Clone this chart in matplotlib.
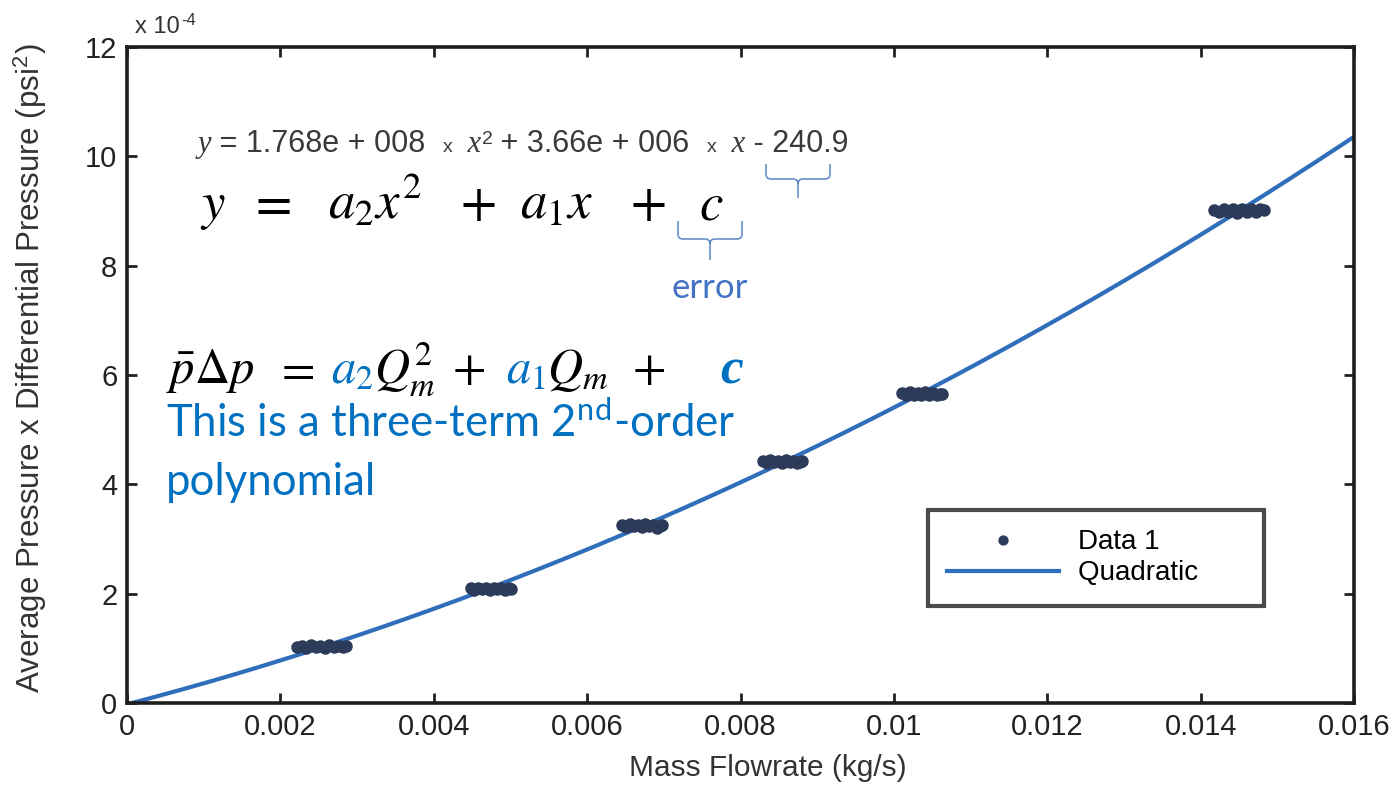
import matplotlib
matplotlib.use("Agg")
import matplotlib.pyplot as plt
import numpy as np
from matplotlib.path import Path
from matplotlib.patches import PathPatch

plt.rcParams['font.family'] = ['Liberation Sans', 'DejaVu Sans']
plt.rcParams['mathtext.fontset'] = 'stix'

# coeficientes del ajuste cuadratico (escala x 10^4 en el eje)
a2 = 1.768e8
a1 = 3.66e6
c0 = -240.9
y_scale = 1e4

# grupos de datos medidos (kg/s, valor en unidades del eje)
data_x = [
    [0.00222, 0.00228, 0.00234, 0.00240, 0.00246, 0.00252, 0.00258, 0.00264, 0.00270, 0.00276, 0.00282, 0.00286],
    [0.00448, 0.00453, 0.00458, 0.00463, 0.00468, 0.00473, 0.00478, 0.00483, 0.00488, 0.00493, 0.00498, 0.00501],
    [0.00646, 0.00651, 0.00656, 0.00661, 0.00666, 0.00671, 0.00676, 0.00681, 0.00686, 0.00691, 0.00695, 0.00698],
    [0.00829, 0.00834, 0.00839, 0.00844, 0.00849, 0.00854, 0.00859, 0.00864, 0.00869, 0.00874, 0.00877, 0.00880],
    [0.01011, 0.01016, 0.01021, 0.01026, 0.01031, 0.01036, 0.01041, 0.01046, 0.01051, 0.01056, 0.01060, 0.01063],
    [0.01418, 0.01424, 0.01430, 0.01436, 0.01442, 0.01448, 0.01454, 0.01460, 0.01466, 0.01472, 0.01478, 0.01482],
]
data_y = [
    [1.03, 1.05, 1.01, 1.06, 1.03, 1.05, 1.01, 1.06, 1.03, 1.05, 1.02, 1.04],
    [2.10, 2.06, 2.11, 2.08, 2.10, 2.06, 2.11, 2.08, 2.10, 2.06, 2.11, 2.09],
    [3.26, 3.22, 3.27, 3.23, 3.26, 3.22, 3.27, 3.24, 3.26, 3.21, 3.24, 3.25],
    [4.43, 4.39, 4.44, 4.40, 4.43, 4.39, 4.44, 4.40, 4.43, 4.39, 4.41, 4.42],
    [5.67, 5.63, 5.68, 5.64, 5.67, 5.63, 5.68, 5.64, 5.67, 5.63, 5.65, 5.66],
    [9.02, 8.98, 9.04, 8.99, 9.03, 8.97, 9.04, 8.99, 9.03, 8.98, 9.04, 9.01],
]

x_ticks = [0, 0.002, 0.004, 0.006, 0.008, 0.01, 0.012, 0.014, 0.016]
x_labels = ['0', '0.002', '0.004', '0.006', '0.008', '0.01', '0.012', '0.014', '0.016']
y_ticks = [0, 2, 4, 6, 8, 10, 12]

W, H = 1390, 785
line_blue = '#2F6EBA'
dot_col = '#2D3B5A'
txt_blue = '#0070C0'
brace_blue = '#5B87C8'


def px(x, y):
    # pixeles de la imagen -> fraccion de figura
    return (x / W, 1 - y / H)


fig = plt.figure(figsize=(13.9, 7.85), dpi=100)
ax = fig.add_axes([127 / W, 1 - 703 / H, 1227 / W, 656 / H])

# curva ajustada
xf = np.linspace(0, 0.016, 400)
yf = (a2 * xf ** 2 + a1 * xf + c0) / y_scale
ax.plot(xf, yf, color=line_blue, lw=3, label='Quadratic      ', zorder=2)

# puntos
allx = [v for g in data_x for v in g]
ally = [v for g in data_y for v in g]
ax.plot(allx, ally, 'o', color=dot_col, ms=8, label='Data 1', zorder=3)

ax.set_xlim(0, 0.016)
ax.set_ylim(0, 12)
ax.set_xticks(x_ticks)
ax.set_xticklabels(x_labels)
ax.set_yticks(y_ticks)
ax.tick_params(direction='in', length=7, width=2, top=True, right=True,
               labelsize=21, pad=7, colors='#222222')
for s in ax.spines.values():
    s.set_linewidth(2.6)
    s.set_color('#1E1E1E')

fig.text(*px(768, 768), 'Mass Flowrate (kg/s)', fontsize=21.5, color='#333333',
         ha='center', va='center')
fig.text(30 / W, 1 - 368 / H,
         'Average Pressure $\\mathregular{x}$ Differential Pressure (psi$^{\\mathregular{2}}$)',
         rotation=90, ha='center', va='center', fontsize=22.5, color='#333333')

fig.canvas.draw()
renderer = fig.canvas.get_renderer()


def chain(x0, ybase, pieces):
    # coloca trozos de texto uno tras otro sobre la misma linea base
    xc = x0
    for s, kw, dy, gap in pieces:
        t = fig.text(*px(xc, ybase - dy), s, va='baseline', **kw)
        xc += t.get_window_extent(renderer).width + gap


g = dict(color='#333333')
chain(135, 33, [('x 10', dict(fontsize=17, **g), 0, 1),
                ('-4', dict(fontsize=12, **g), 8, 0)])

# leyenda (orden Data 1, Quadratic)
h, l = ax.get_legend_handles_labels()
leg = ax.legend(h[::-1], l[::-1], loc='upper left', bbox_to_anchor=px(928, 510),
                bbox_transform=fig.transFigure, borderaxespad=0, fontsize=20,
                handlelength=4.0, handletextpad=0.7, borderpad=0.7,
                labelspacing=0.18, fancybox=False, edgecolor='#1E1E1E',
                markerscale=0.8)
leg.get_frame().set_linewidth(3)

# ecuacion del ajuste
e = dict(color='#3A3A3A')
fs = 22
it = dict(fontsize=fs, family='Liberation Serif', fontstyle='italic', **e)
chain(198, 152, [('y', it, 0, 0),
                 (' = 1.768e + 008  ', dict(fontsize=fs, **e), 0, 0),
                 ('x', dict(fontsize=14, **e), 0, 7),
                 (' x', it, 0, 1),
                 ('2', dict(fontsize=14, **e), 8, 0),
                 (' + 3.66e + 006  ', dict(fontsize=fs, **e), 0, 0),
                 ('x', dict(fontsize=14, **e), 0, 7),
                 (' x', it, 0, 0),
                 (' - 240.9', dict(fontsize=fs, **e), 0, 0)])

# ecuacion general
big = [(r'$y$', 200), (r'$=$', 248), (r'$a_2x^2$', 328), (r'$+$', 460),
       (r'$a_1x$', 520), (r'$+$', 630), (r'$c$', 699)]
for s, x in big:
    fig.text(*px(x, 219), s, fontsize=38, color='black', va='baseline')


def brace(x0, x1, ytop, ymid, ytip, r=5):
    xc = (x0 + x1) / 2
    pts = [(x0, ytop), (x0, ymid - r), (x0, ymid), (x0 + r, ymid), (xc - r, ymid),
           (xc, ymid), (xc, ymid + r), (xc, ytip),
           (xc, ymid + r), (xc, ymid), (xc + r, ymid), (x1 - r, ymid),
           (x1, ymid), (x1, ymid - r), (x1, ytop)]
    codes = [Path.MOVETO, Path.LINETO, Path.CURVE3, Path.CURVE3, Path.LINETO,
             Path.CURVE3, Path.CURVE3, Path.LINETO,
             Path.MOVETO, Path.CURVE3, Path.CURVE3, Path.LINETO,
             Path.CURVE3, Path.CURVE3, Path.LINETO]
    verts = [px(a, b) for a, b in pts]
    fig.add_artist(PathPatch(Path(verts, codes), fill=False, edgecolor=brace_blue,
                             lw=1.1, transform=fig.transFigure))


brace(766, 830, 164, 179, 198)
brace(678, 742, 221, 239, 260)

fig.text(*px(710, 298), 'error', fontsize=25, color='#4472C4', ha='center',
         va='baseline', family='Lato')

# segunda ecuacion con colores
m = dict(fontsize=35)
fig.text(*px(166, 383), r'$\bar{p}\Delta p$', color='black', va='baseline', **m)
fig.text(*px(274, 383), r'$=$', color='black', va='baseline', **m)
chain(331, 383, [(r'$a_2$', dict(color=txt_blue, **m), 0, 1),
                 (r'$Q_m^2$', dict(color='black', **m), 0, 0)])
fig.text(*px(452, 383), r'$+$', color='black', va='baseline', **m)
chain(506, 383, [(r'$a_1$', dict(color=txt_blue, **m), 0, 1),
                 (r'$Q_m$', dict(color='black', **m), 0, 0)])
fig.text(*px(632, 383), r'$+$', color='black', va='baseline', **m)
fig.text(*px(720, 383), 'c', fontsize=37, color=txt_blue, va='baseline',
         family='Liberation Serif', fontweight='bold', fontstyle='italic')

fig.text(*px(166, 437), 'This is a three-term 2$^{\\mathregular{nd}}$-order',
         fontsize=31.5, color=txt_blue, va='baseline', family='Lato')
fig.text(*px(166, 495), 'polynomial', fontsize=31.5, color=txt_blue, va='baseline',
         family='Lato')

fig.savefig('out.png', dpi=100)
